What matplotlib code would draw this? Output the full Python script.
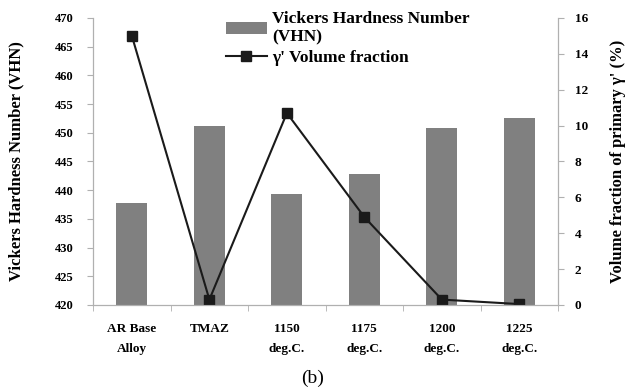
import numpy as np
import matplotlib
matplotlib.use('Agg')
import matplotlib.pyplot as plt

plt.rcParams['font.family'] = ['Liberation Serif', 'DejaVu Serif']
plt.rcParams['font.weight'] = 'bold'

# data
conditions = ['AR Base\nAlloy', 'TMAZ', '1150\ndeg.C.', '1175\ndeg.C.', '1200\ndeg.C.', '1225\ndeg.C.']
vhn = [437.8, 451.2, 439.3, 442.8, 450.8, 452.6]
gamma_frac = [15.0, 0.3, 10.7, 4.9, 0.3, 0.05]

spine_col = '#b0b0b0'

fig = plt.figure(figsize=(6.25, 3.91), dpi=100)
ax = fig.add_axes([0.149, 0.22, 0.744, 0.734])
x = np.arange(len(conditions))

bars = ax.bar(x, vhn, width=0.4, color='#808080', bottom=0)
ax.set_ylim(420, 470)
ax.set_xlim(-0.5, len(conditions) - 0.5)
ax.set_yticks(np.arange(420, 471, 5))
ax.set_xticks(x)
ax.set_xticklabels(conditions, fontsize=9.5, linespacing=1.9)
ax.set_xticks(np.arange(-0.5, len(conditions), 1), minor=True)
ax.tick_params(axis='x', which='major', length=0, pad=13)
ax.tick_params(axis='x', which='minor', length=4, color=spine_col)
ax.tick_params(axis='y', labelsize=9, length=4, color=spine_col, pad=10)
ax.set_ylabel('Vickers Hardness Number (VHN)', fontsize=12, fontweight='bold', labelpad=22)

ax2 = ax.twinx()
line, = ax2.plot(x, gamma_frac, color='#1a1a1a', lw=1.5, marker='s', ms=7)
ax2.set_ylim(0, 16)
ax2.set_yticks(np.arange(0, 17, 2))
ax2.tick_params(axis='y', labelsize=9.5, length=4, color=spine_col, pad=8)
ax2.set_ylabel("Volume fraction of primary γ' (%)", fontsize=12, fontweight='bold', labelpad=16)

for a in (ax, ax2):
    a.spines['top'].set_visible(False)
    for s in ('left', 'right', 'bottom'):
        a.spines[s].set_color(spine_col)

ax2.legend([bars, line], ['Vickers Hardness Number\n(VHN)', "γ' Volume fraction"],
           loc='upper left', bbox_to_anchor=(0.27, 1.05), frameon=False,
           fontsize=12.5, handlelength=2.4, labelspacing=0.3, borderaxespad=0,
           handletextpad=0.3, prop={'size': 12.5, 'weight': 'bold'})

fig.text(0.5, 0.01, '(b)', ha='center', va='bottom', fontsize=14, fontweight='normal')

fig.savefig('out.png', dpi=100)
plt.close()
